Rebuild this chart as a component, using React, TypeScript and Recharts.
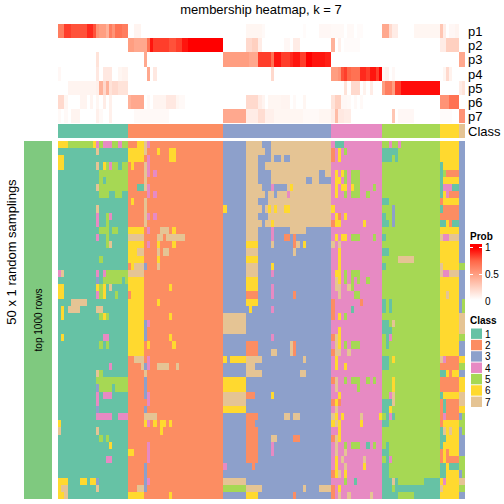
import { BarChart, Bar, XAxis, YAxis } from "recharts";

// class colours (Set2)
const classColors: Record<number, string> = {
  1: "#66C2A5", 2: "#FC8D62", 3: "#8DA0CB", 4: "#E78AC3", 5: "#A6D854", 6: "#FFD92F", 7: "#E5C494",
};
const classLabels = [1, 2, 3, 4, 5, 6, 7];
const classSizes = [22, 30, 34, 16, 18, 6, 2];
const probLabels = ["p1", "p2", "p3", "p4", "p5", "p6", "p7"];
const probTicks = ["1", "0.5", "0"];

type Run = [number, number, number];

// membership probabilities as [from column, to column, value]
const p1: Run[] = [[0, 1, .65], [2, 3, .85], [4, 8, .8], [9, 10, .9], [11, 11, .8], [12, 12, .55], [13, 14, .5], [15, 15, .4], [16, 16, .65], [17, 17, .55], [18, 19, .7], [20, 21, .65], [24, 25, .06], [59, 63, .05], [64, 64, .03], [77, 77, .02], [82, 85, .04], [86, 89, .03], [91, 92, .03], [94, 95, .02], [102, 103, .45], [104, 104, .2], [105, 106, .1], [112, 119, .05], [120, 120, .3], [121, 121, .1], [123, 124, .04], [125, 125, .06]];
const p2: Run[] = [[22, 23, .5], [24, 27, .45], [28, 28, .7], [29, 29, .95], [30, 34, .85], [35, 36, .8], [37, 38, .85], [39, 40, .95], [41, 51, 1], [59, 60, .2], [61, 62, .25], [63, 63, .1], [71, 72, .04], [74, 75, .1], [86, 86, .4], [88, 88, .08], [90, 94, .02], [120, 121, .1], [122, 125, .25]];
const p3: Run[] = [[12, 12, .15], [27, 27, .45], [52, 59, .5], [60, 62, .45], [63, 66, .85], [67, 67, .7], [68, 69, .95], [70, 72, .85], [73, 73, .9], [74, 75, .95], [76, 77, .85], [78, 79, 1], [80, 83, .95], [84, 85, .92], [126, 127, .45]];
const p4: Run[] = [[0, 0, .04], [12, 12, .12], [14, 16, .12], [19, 19, .05], [20, 21, .07], [28, 28, .45], [30, 30, .12], [67, 67, .2], [86, 87, .5], [88, 88, .55], [89, 89, .8], [90, 90, .85], [91, 91, .75], [92, 94, .7], [95, 96, .9], [97, 97, .85], [98, 99, .95], [100, 100, .85], [101, 101, 1], [102, 102, .05], [103, 103, .08], [105, 105, .04], [121, 121, .05], [122, 122, .2], [123, 123, .07]];
const p5: Run[] = [[3, 11, .06], [12, 12, .08], [13, 13, .4], [14, 14, .2], [15, 15, .4], [16, 16, .15], [17, 18, .2], [19, 21, .15], [90, 90, .15], [92, 94, .2], [96, 96, .07], [98, 98, .1], [102, 102, .5], [103, 104, .65], [105, 105, .5], [106, 107, .85], [108, 119, .97], [126, 126, .1], [127, 127, .15]];
const p6: Run[] = [[0, 1, .2], [2, 2, .05], [7, 8, .06], [10, 10, .06], [12, 12, .05], [14, 14, .1], [16, 16, .08], [22, 22, .4], [23, 26, .45], [28, 28, .03], [30, 33, .06], [34, 36, .12], [37, 37, .05], [38, 39, .03], [59, 62, .2], [63, 63, .1], [64, 64, .06], [66, 69, .05], [70, 72, .06], [74, 74, .03], [77, 77, .05], [86, 86, .15], [87, 88, .25], [89, 90, .04], [91, 91, .03], [93, 93, .03], [95, 95, .03], [120, 122, .55], [123, 125, .7]];
const p7: Run[] = [[0, 0, .03], [2, 2, .03], [4, 6, .06], [12, 12, .08], [13, 13, .03], [16, 16, .08], [24, 34, .03], [52, 58, .45], [59, 62, .1], [63, 64, .18], [65, 67, .08], [68, 76, .05], [77, 81, .03], [82, 85, .05], [86, 86, .1], [87, 87, .35], [88, 89, .12], [90, 91, .1], [105, 105, .3], [107, 111, .04], [120, 123, .02], [126, 127, .55]];
const probRuns = [p1, p2, p3, p4, p5, p6, p7];

// main matrix: each row lists the cells that differ from its column's usual class ("from-to:class")
const baseSizes = [22, 30, 34, 16, 18, 6];
const baseTail = 3;
const sampleRows: string[] = [
  "0-2:6 3-10:5 11:6 12:4 13:5 14-16:4 17-18:5 19:4 20-21:5 25-26:6 27:7 28:4 59-63:7 67-85:7 87-89:1 104:4 107:4",
  "12:7 22-26:6 27:7 31:6 35-36:6 59-64:7 67-85:7 86:2 88:6 90:5 102-106:1",
  "0-1:6 22-26:6 28:4 35-36:6 59-62:7 67:7 70:7 73-85:7 86:2 88:6 102-104:1 106:1",
  "0-1:6 12:7 14:6 15:5 16:4 17-18:5 20-21:5 23:6 27:7 28:4 59-62:7 65-85:7 120:1",
  "13-21:5 27:7 28:4 30:4 59-62:7 67-81:7 84-85:7 87:6 89:6 90:5 92-94:5 120:1 121:5 122-125:2",
  "13:5 15-21:5 27:7 59-62:7 67-77:7 80-81:7 87-88:6 90:5 92-94:5 120:1",
  "12:7 13-21:5 25-26:1 27:7 28:4 59-63:7 67:4 72:7 73:6 74-85:7 87:6 89-90:6 92:6 93-94:5 99:5 120:1 121-123:4 124-125:1",
  "13-15:5 18-19:5 28:4 30:4 59-64:7 66-67:7 69-71:7 72:4 73-85:7 87:6 90:5 92-94:5 97:5 120:1 122:4 123-125:2",
  "23:6 27:7 59-62:7 66-85:7 102-103:1 120:2",
  "12:7 27:7 52:6 59-63:7 65:7 66:6 67:7 68:6 69-70:7 71-72:6 73-85:7 86:6 105:3 120:1 121-125:2",
  "12:4 15:5 16:4 27:7 28:4 30:4 59-62:7 66-85:7 87:6 88:2 90:6 102:1 105:3 120-125:2",
  "12:4 15:5 27:7 59-63:7 65-66:7 67:6 68-85:7 86:2 87-88:6 96:6 102-103:1 105:3 120-121:1 122:6 123:2 124-125:1",
  "13-15:5 17-18:5 22-26:6 28:4 32-34:7 36:6 59-62:7 67:4 73-77:7",
  "12:4 15:5 22-26:7 31-32:7 34-39:7 59-62:7 67:4 71-72:2 74:2 87:6 89-90:6 92-94:5 99:5 102:1 120:7 121-122:4 123-125:7",
  "15:5 16:7 22-26:6 28:4 31:6 36:6 59-62:6 67:7 74:2 75:7 77:6 86:7 88:7",
  "22-24:6 25-26:7 31:7 33-34:7 59-62:7 74:7 88:6 102-103:1",
  "13:5 22-26:6 31:6 59-62:6 88:6 107-111:7",
  "23:6 24-26:7 27:3 31:7 59-62:7 67:6 88:6 102:1 120:7 126-127:5",
  "0:4 1:7 12:4 14:4 15-21:5 22-26:7 59-62:7 67:4 87-88:6 90:5 92-94:5 120:7 121-122:4 123-125:7",
  "12:3 14-19:5 21:5 22-26:6 59-62:6 87:7 88:6 90:5 92:5 94:5 97:5",
  "0-1:6 12:6 13:5 14:6 16:7 22-26:6 35:6 59-62:6 67:4 87-88:7 91:7 92:5",
  "0-1:6 12:4 13:5 14:6 18:5 23-26:6 59-62:2 67:4 74:2 88:7 93-94:5 122:7",
  "4-8:7 22-26:6 31:6 59-62:6 86:2 95:2 102:1 104:1 127:5",
  "1:6 3-6:7 12-13:7 22-26:6 60:6 67:4 86:2 92:1 102:1 104:1 127:5",
  "1:6 13:5 14:6 15:5 22-26:6 35:6 52-58:7 86:2 88:6 90:5 126-127:7",
  "22-26:6 27:3 28:4 52-58:7 102-103:1 105:7 126-127:7",
  "22-26:6 27:3 52-58:7 88:6 102-104:1 126-127:7",
  "1:6 14-15:4 22-26:6 27:3 35:6 67:4 86:2 87:7 88:6 103:1 104:4 126-127:5",
  "13:5 15:5 22-26:6 28:6 36:6 59-62:2 73:7 74:2 87:7 88:6 90:5 92-94:5 103:1",
  "22-26:6 59-62:2 67-68:7 73:7 74:2 86:2 87-88:7 91:7",
  "24-26:7 28:4 52:6 54-58:6 59-63:7 77:7 87:6 102-103:1 105:6 120:7 121:4 122-125:2 126-127:6",
  "16:4 26:7 27:3 28:4 31-34:7 37:7 59-61:7 87:6 90:6 102-103:1 120-125:2 126-127:5",
  "12:7 13:5 27:7 59-63:7 76-77:7 120-121:1 122:6 123:2",
  "12-21:5 27:3 52-58:6 86:2 87:7 90:5 92-94:5 97:5 99:5 105:6 120-125:2 126-127:6",
  "12:3 13-16:5 18-21:5 27:3 52-58:6 87:7 94:5 105:6 120-125:2 126-127:6",
  "12:4 14-16:4 27:3 28:4 52-58:7 59-61:2 67:6 88:6 104:4 105:7 120:1 126-127:7",
  "12:4 28:4 52-58:7 86:2 87:6 88:2 102-104:1 105:7 120:2 121:1 122-125:2 126-127:7",
  "12:3 27:3 52-58:6 87:7 102-103:1 104:6 120:2 121:1 122-125:2 126-127:6",
  "12-16:4 19-21:4 27-30:7 59-62:2 71-72:7 74-75:7 86:7 87:6 89:6 95:7 101:6 103:1 104:4 105:1 120:2 121:4 122-125:2 127:5",
  "0:6 27:6 28:4 30:6 32-33:6 35:6 59-61:2 86:6 87:7 88:6 95:6 102-103:1 120:2 126-127:5",
  "0:7 12:7 32:6 59-62:2 88:6 120:1 121:7 123:7 127:5",
  "13:5 15:5 59-62:2 67-68:7 74-75:2 86:2 87:7 88:6 120-121:1",
  "16:6 28:4 59-62:2 67:4 87:7 90:5 92-94:5 97:1 99:5 103:1 120:1",
  "22-23:6 28:4 59-62:2 67:4 87:7 90:7 102-103:1 120:2 122:2",
  "15-16:4 28:4 59-62:2 87:6 89:7 96:7 103:1 104:4 120:2 122-125:2 126-127:5",
  "27:3 52:4 61:2 87:6 90:7 96:6 102-103:1 120-121:1 123-125:1 126-127:5",
  "27:3 86:2 87:6 88:7 90:6 102-103:1 120-121:1 127:5",
  "0-2:6 7-8:6 10-11:6 12:3 27:3 28:4 52-58:7 90:5 93:1 102-104:1 105:7 106:1 115-119:1 121:4 126-127:7",
  "0:6 1-2:7 12:7 25-26:7 27:3 52-58:5 59-63:7 77:7 82-85:7 86:2 88:6 102-104:1 106-119:1 120:7 126-127:5",
  "0-1:6 2:7 22-26:6 35:6 59-62:6 74:2 86:2 88:7 91:7 98:7 102-106:1 112-119:1",
];

const annotationClass: number[] = classSizes.flatMap((n, i) => Array(n).fill(classLabels[i]));
const columnCount = annotationClass.length;
const baseColumn: number[] = [...baseSizes.flatMap((n, i) => Array(n).fill(classLabels[i])), baseTail, baseTail];

const matrix: number[][] = sampleRows.map((row) => {
  const cells = [...baseColumn];
  row.split(" ").forEach((edit) => {
    const [span, cls] = edit.split(":");
    const [from, to] = span.split("-").map(Number);
    for (let c = from; c <= (to ?? from); c++) cells[c] = Number(cls);
  });
  return cells;
});

const probMatrix: number[][] = probRuns.map((runs) => {
  const cells = Array(columnCount).fill(0);
  runs.forEach(([from, to, v]) => {
    for (let c = from; c <= to; c++) cells[c] = v;
  });
  return cells;
});

const probStops = [
  [0, 255, 255, 255],
  [0.25, 255, 208, 192],
  [0.5, 255, 158, 129],
  [0.75, 255, 103, 72],
  [1, 255, 0, 0],
];

function probColor(v: number) {
  for (let i = 1; i < probStops.length; i++) {
    const a = probStops[i - 1];
    const b = probStops[i];
    if (v <= b[0]) {
      const t = (v - a[0]) / (b[0] - a[0]);
      return `rgb(${[1, 2, 3].map((k) => Math.round(a[k] + (b[k] - a[k]) * t)).join(",")})`;
    }
  }
  return "rgb(255,0,0)";
}

// every cell counts 1 in its column stack, one stack per column
function stackData(rows: number) {
  return annotationClass.map((_, col) => {
    const entry: Record<string, number> = { col };
    for (let r = 0; r < rows; r++) entry[`r${r}`] = 1;
    return entry;
  });
}

const CHART_LEFT = 58;
const CHART_WIDTH = 407;
const CELL_W = CHART_WIDTH / columnCount;

function HeatChart({ top, height, colors }: { top: number; height: number; colors: string[][] }) {
  const rows = colors.length;
  return (
    <div style={{ position: "absolute", left: CHART_LEFT, top }}>
      <BarChart width={CHART_WIDTH} height={height} data={stackData(rows)} margin={{ top: 0, right: 0, bottom: 0, left: 0 }} barCategoryGap={0}>
        <XAxis dataKey="col" type="category" hide />
        <YAxis type="number" domain={[0, rows]} reversed hide />
        {colors.map((rowColors, r) => (
          <Bar
            key={r}
            dataKey={`r${r}`}
            stackId="cells"
            isAnimationActive={false}
            // the reversed axis hands negative heights to the shape
            shape={(p: any) => (
              <rect
                x={p.x}
                y={Math.min(p.y, p.y + p.height)}
                width={CELL_W}
                height={Math.abs(p.height)}
                fill={rowColors[p.index]}
                shapeRendering="crispEdges"
              />
            )}
          />
        ))}
      </BarChart>
    </div>
  );
}

const labelFont = "'Liberation Sans', Arial, sans-serif";

export default function App() {
  const mainColors = matrix.map((row) => row.map((c) => classColors[c]));
  const probColors = probMatrix.map((row) => row.map(probColor));
  const classColorsRow = [annotationClass.map((c) => classColors[c])];

  return (
    <div style={{ position: "absolute", left: 0, top: 0, width: 504, height: 504, background: "#fff", overflow: "hidden" }}>
      <HeatChart top={24} height={99.4} colors={probColors} />
      <HeatChart top={124} height={14} colors={classColorsRow} />
      <HeatChart top={141} height={358} colors={mainColors} />

      <div style={{ position: "absolute", left: 24, top: 141 }}>
        <BarChart width={28} height={358} data={[{ name: "rows", value: 1 }]} margin={{ top: 0, right: 0, bottom: 0, left: 0 }} barCategoryGap={0}>
          <XAxis dataKey="name" type="category" hide />
          <YAxis type="number" domain={[0, 1]} hide />
          <Bar dataKey="value" fill="#7FC97F" isAnimationActive={false} />
        </BarChart>
      </div>

      <svg width={504} height={504} style={{ position: "absolute", left: 0, top: 0, pointerEvents: "none" }} fontFamily={labelFont}>
        <defs>
          <linearGradient id="probBar" x1="0" y1="1" x2="0" y2="0">
            {probStops.map((s) => (
              <stop key={s[0]} offset={s[0]} stopColor={`rgb(${s[1]},${s[2]},${s[3]})`} />
            ))}
          </linearGradient>
        </defs>

        <text x={261} y={14} fontSize={13} textAnchor="middle" fill="#000">membership heatmap, k = 7</text>
        {probLabels.map((label, i) => (
          <text key={label} x={468} y={36 + i * 14.2} fontSize={13} fill="#000">{label}</text>
        ))}
        <text x={468} y={136} fontSize={13} fill="#000">Class</text>

        <text transform="translate(16,252) rotate(-90)" fontSize={13} textAnchor="middle" fill="#000">50 x 1 random samplings</text>
        <text transform="translate(42,320) rotate(-90)" fontSize={10} textAnchor="middle" fill="#000">top 1000 rows</text>

        <text x={470} y={240} fontSize={10} fontWeight="bold" fill="#000">Prob</text>
        <rect x={470} y={248} width={12} height={52} fill="url(#probBar)" />
        <rect x={470} y={244} width={12} height={4} fill="#FF0000" />
        {[247, 274, 300].map((y) => (
          <g key={y}>
            <rect x={470} y={y} width={3} height={1} fill="#fff" />
            <rect x={479} y={y} width={3} height={1} fill="#fff" />
          </g>
        ))}
        {probTicks.map((t, i) => (
          <text key={t} x={485} y={[251, 278, 305][i]} fontSize={10} fill="#000">{t}</text>
        ))}

        <text x={470} y={324} fontSize={10} fontWeight="bold" fill="#000">Class</text>
        {classLabels.map((c, i) => (
          <g key={c}>
            <rect x={471} y={328.5 + i * 11.35} width={11} height={10.4} fill={classColors[c]} />
            <text x={485} y={337.5 + i * 11.35} fontSize={10} fill="#000">{c}</text>
          </g>
        ))}
      </svg>
    </div>
  );
}
